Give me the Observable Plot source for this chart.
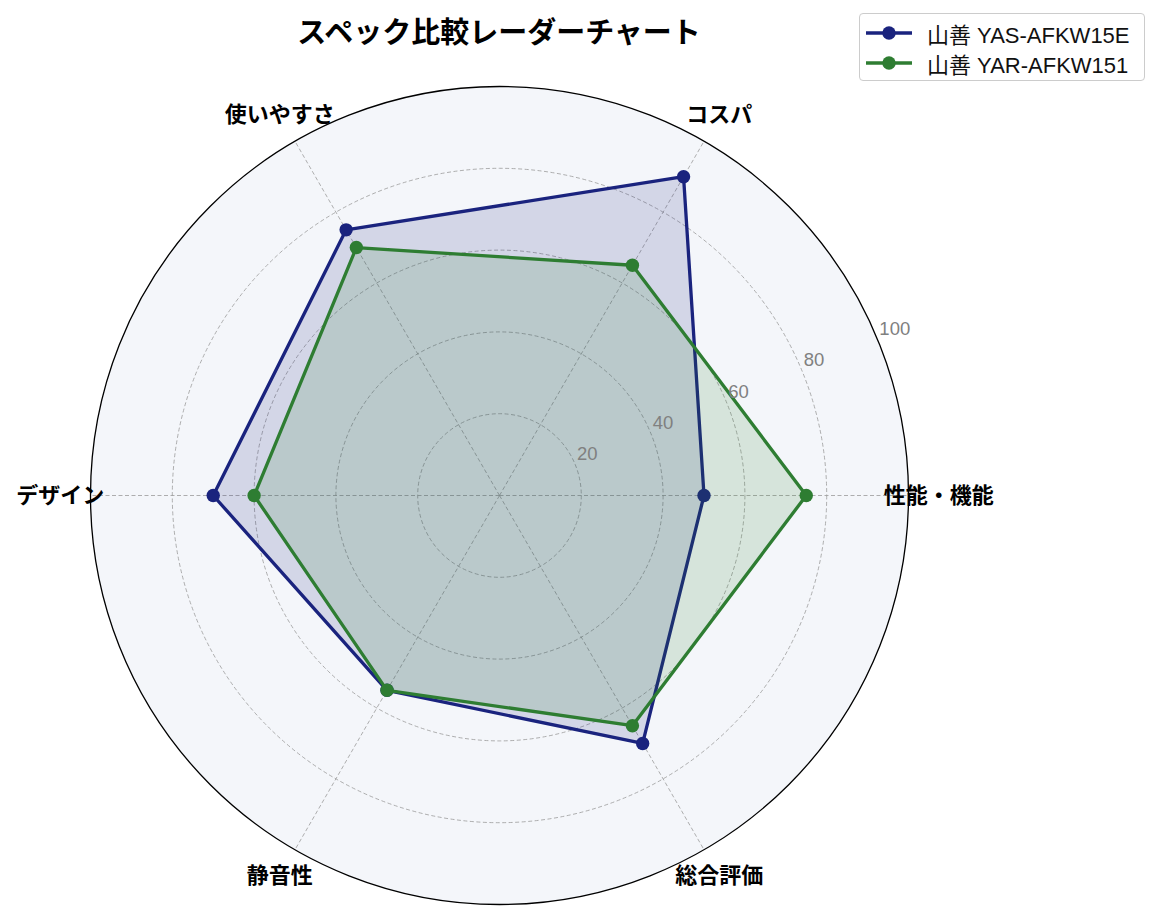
<!DOCTYPE html>
<html>
<head>
<meta charset="utf-8">
<script src="https://cdn.jsdelivr.net/npm/d3@7"></script>
<script src="https://cdn.jsdelivr.net/npm/@observablehq/plot@0.6"></script>
<style>
  body { margin: 0; background: #fff; font-family: "Noto Sans CJK JP", "Noto Sans", sans-serif; }
  #wrap { position: relative; width: 1159px; height: 920px; overflow: hidden; }
  #title { position: absolute; left: 0; width: 998px; top: 15px; text-align: center;
           font-weight: bold; font-size: 29px; line-height: 1.1; color: #000; }
  #legend { position: absolute; left: 859px; top: 13px; width: 284px; height: 66px;
            border: 1px solid #cccccc; border-radius: 4px; background: #fff; box-sizing: content-box; }
  .row { position: absolute; left: 0; height: 30px; display: flex; align-items: center; }
  .row svg { margin-left: 6px; }
  .row span { margin-left: 15px; font-size: 22px; color: #111; white-space: nowrap;
              font-family: "Liberation Sans", "Noto Sans CJK JP", sans-serif; }
  #chart svg { display: block; }
</style>
</head>
<body>
<div id="wrap">
  <div id="chart"></div>
  <div id="title"></div>
  <div id="legend"></div>
</div>
<script>
// ---- data ----
const title = "スペック比較レーダーチャート";
const categories = ["性能・機能", "コスパ", "使いやすさ", "デザイン", "静音性", "総合評価"];
const seriesNames = ["山善 YAS-AFKW15E", "山善 YAR-AFKW151"];
const valuesA = [50, 90, 75, 70, 55, 70];
const valuesB = [75, 65, 70, 60, 55, 65];
const seriesColors = ["#1a237e", "#2e7d32"];
const ringTicks = [20, 40, 60, 80];
const tickLabels = ["20", "40", "60", "80", "100"];
const tickValues = [20, 40, 60, 80, 100];
const rMax = 100;

// ---- layout ----
const W = 1159, H = 920;
const cx = 499, cy = 495, Rpx = 409;
const PX = Rpx / rMax;
const labelR = 107.4;
const tickAngle = 22.5 * Math.PI / 180;

const n = categories.length;
const ang = i => i * 2 * Math.PI / n;

const seriesValues = [valuesA, valuesB];
const polyData = seriesValues.map((vals, s) =>
  vals.map((v, i) => ({series: seriesNames[s], cat: categories[i], v, a: ang(i)})));

const spokes = categories.map((c, i) => ({cat: c, a: ang(i)}));

const marks = [
  // background disk
  Plot.dot([rMax], {x: () => 0, y: () => 0, r: d => d, fill: "#f4f6fa", stroke: "none"}),
  // ring grid
  Plot.dot(ringTicks, {x: () => 0, y: () => 0, r: d => d, fill: "none", stroke: "#9a9a9a",
    strokeWidth: 0.8, strokeDasharray: "4,2.5"}),
  // spokes
  Plot.link(spokes, {x1: () => 0, y1: () => 0, x2: d => rMax * Math.cos(d.a), y2: d => rMax * Math.sin(d.a),
    stroke: "#9a9a9a", strokeWidth: 0.8, strokeDasharray: "4,2.5"})
];

polyData.forEach((pts, s) => {
  marks.push(Plot.line(pts, {
    x: d => d.v * Math.cos(d.a), y: d => d.v * Math.sin(d.a),
    curve: "linear-closed", fill: seriesColors[s], fillOpacity: 0.15,
    stroke: seriesColors[s], strokeWidth: 3.3, strokeLinejoin: "round"
  }));
  marks.push(Plot.dot(pts, {
    x: d => d.v * Math.cos(d.a), y: d => d.v * Math.sin(d.a),
    r: () => 6.7 / PX, fill: seriesColors[s], stroke: "none"
  }));
});

// outer circle
marks.push(Plot.dot([rMax], {x: () => 0, y: () => 0, r: d => d, fill: "none", stroke: "#000", strokeWidth: 1.3}));

// radial tick labels
marks.push(Plot.text(tickValues, {
  x: d => d * Math.cos(tickAngle), y: d => d * Math.sin(tickAngle),
  text: (d, i) => tickLabels[i], textAnchor: "start", dx: 2, dy: -10,
  fill: "#808080", fontSize: 18.5, fontFamily: '"Liberation Sans", sans-serif'
}));

// category labels
marks.push(Plot.text(spokes, {
  x: d => labelR * Math.cos(d.a), y: d => labelR * Math.sin(d.a),
  text: "cat", fontSize: 22, fontWeight: "bold", fill: "#000"
}));

const chart = Plot.plot({
  width: W, height: H, margin: 0,
  style: {fontFamily: '"Noto Sans CJK JP", "Noto Sans", sans-serif', background: "transparent"},
  x: {domain: [-cx / PX, (W - cx) / PX], range: [0, W], axis: null},
  y: {domain: [-(H - cy) / PX, cy / PX], range: [H, 0], axis: null},
  r: {type: "linear", domain: [0, rMax], range: [0, Rpx], clamp: false},
  marks
});
document.getElementById("chart").appendChild(chart);
document.getElementById("title").textContent = title;

// legend
const leg = document.getElementById("legend");
seriesNames.forEach((name, s) => {
  const row = document.createElement("div");
  row.className = "row";
  row.style.top = (4 + s * 30) + "px";
  row.innerHTML = `<svg width="46" height="14"><line x1="0" y1="7" x2="46" y2="7" stroke="${seriesColors[s]}" stroke-width="3.3"/><circle cx="23" cy="7" r="6.7" fill="${seriesColors[s]}"/></svg><span>${name}</span>`;
  leg.appendChild(row);
});
</script>
</body>
</html>
